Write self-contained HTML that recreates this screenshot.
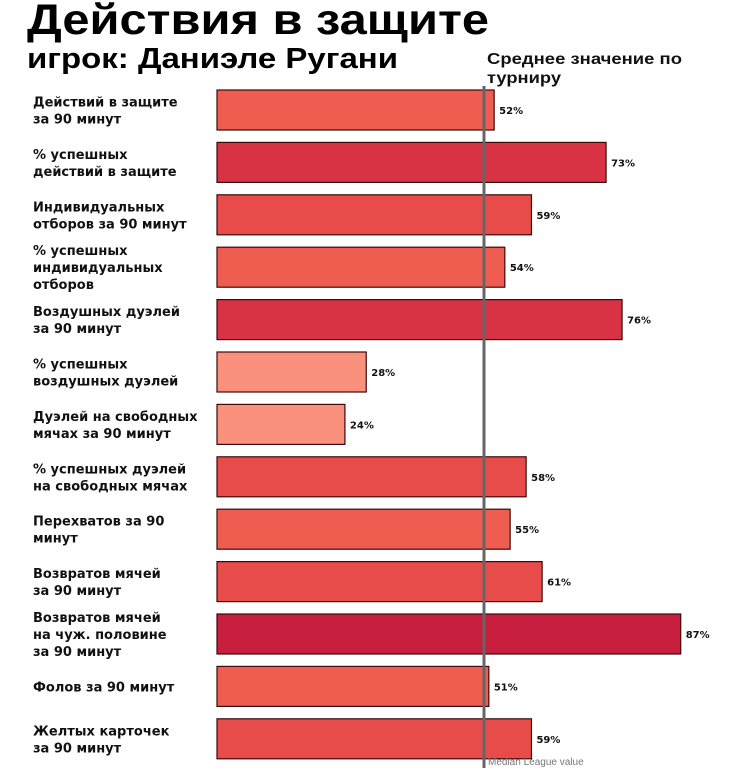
<!DOCTYPE html>
<html><head><meta charset="utf-8">
<style>
body{margin:0;background:#fff;width:730px;height:775px;overflow:hidden;font-family:"Liberation Sans","DejaVu Sans",sans-serif;}
svg{display:block}
</style></head>
<body>
<svg id="chart" width="730" height="775">
<text x="27" y="34" font-size="43" font-weight="bold" fill="#000" textLength="462" lengthAdjust="spacingAndGlyphs">Действия в защите</text>
<text x="27" y="68" font-size="29" font-weight="bold" fill="#000" textLength="371" lengthAdjust="spacingAndGlyphs">игрок: Даниэле Ругани</text>
<text x="487" y="64" font-size="16" font-weight="bold" fill="#111" textLength="195" lengthAdjust="spacingAndGlyphs">Среднее значение по</text>
<text x="487" y="83" font-size="16" font-weight="bold" fill="#111" textLength="74" lengthAdjust="spacingAndGlyphs">турниру</text>
<g id="bars"></g>
</svg>
<script>
const categories = [
 ["Действий в защите","за 90 минут"],
 ["% успешных","действий в защите"],
 ["Индивидуальных","отборов за 90 минут"],
 ["% успешных","индивидуальных","отборов"],
 ["Воздушных дуэлей","за 90 минут"],
 ["% успешных","воздушных дуэлей"],
 ["Дуэлей на свободных","мячах за 90 минут"],
 ["% успешных дуэлей","на свободных мячах"],
 ["Перехватов за 90","минут"],
 ["Возвратов мячей","за 90 минут"],
 ["Возвратов мячей","на чуж. половине","за 90 минут"],
 ["Фолов за 90 минут"],
 ["Желтых карточек","за 90 минут"]
];
const values = [52,73,59,54,76,28,24,58,55,61,87,51,59];
const medianValue = 50;

const NS = "http://www.w3.org/2000/svg";
const g = document.getElementById('bars');
const x0 = 217, scale = 5.33;
const xPos = v => x0 + v*scale;
const rowTop = i => 90 + i*52.4;
function colorFor(v){
  if (v <= 35) return "#f9917c";
  if (v <= 56) return "#ef5d51";
  if (v <= 65) return "#e84c4a";
  if (v <= 80) return "#d83345";
  return "#c71f3d";
}
function mk(tag, attrs){ const e=document.createElementNS(NS,tag); for(const k in attrs) e.setAttribute(k,attrs[k]); return e; }

values.forEach((v,i)=>{
  const top = rowTop(i);
  const r = mk('rect',{x:x0,y:top,width:xPos(v)-x0,height:40,fill:colorFor(v),stroke:"#3a0a0a","stroke-width":1.2});
  
  
  g.appendChild(r);
  const t = mk('text',{x:xPos(v)+5,y:top+24,"font-size":10,"font-weight":"bold",fill:"#111","font-family":"DejaVu Sans, sans-serif"});
  t.textContent = v+"%";
  
  
  g.appendChild(t);
  const lines = categories[i];
  const lh = 17;
  const startY = top + 20 - (lines.length-1)*lh/2 + 5;
  const lab = mk('text',{x:33,"font-size":13,"font-weight":"bold",fill:"#111","font-family":"DejaVu Sans, sans-serif"});
  
  
  lines.forEach((ln,j)=>{
    const ts = mk('tspan',{x:33,y:startY+j*lh});
    ts.textContent = ln;
    lab.appendChild(ts);
  });
  g.appendChild(lab);
});
const mx = 484;
const ml = mk('line',{x1:mx,x2:mx,y1:86,y2:768,stroke:"#666","stroke-width":3});


g.appendChild(ml);
const mt = mk('text',{x:488,y:765,"font-size":10,fill:"#777"});
mt.textContent = "Median League value";


g.appendChild(mt);
</script>
</body></html>
